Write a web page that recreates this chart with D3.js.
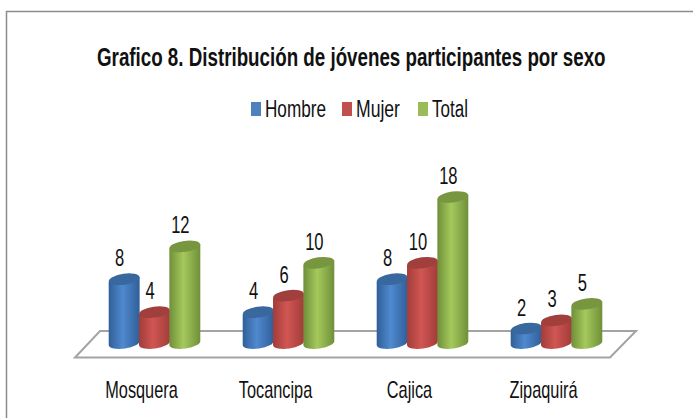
<!DOCTYPE html>
<html>
  <head>
    <meta charset="utf-8">
    <script src="https://d3js.org/d3.v7.min.js"></script>
    <title>Grafico 8</title>
    <style>
      body { margin: 0px; background: white; }
      svg { display: block; }
      text { font-family: 'Liberation Sans', sans-serif; fill: #111111; }
    </style>
  </head>
  <body>
    <div id="graph"></div>
    <script>
      const titleText = 'Grafico 8. Distribución de jóvenes participantes por sexo';
      const categories = ['Mosquera', 'Tocancipa', 'Cajica', 'Zipaquirá'];
      const seriesNames = ['Hombre', 'Mujer', 'Total'];
      const hombre = [8, 4, 8, 2];
      const mujer = [4, 6, 10, 3];
      const total = [12, 10, 18, 5];
      const seriesValues = [hombre, mujer, total];

      // edge, middle, top cap, legend
      const seriesColors = [
        ['#2f5f98', '#5089cf', '#39689f', '#4f81bd'],
        ['#a23c39', '#d05653', '#a03f3c', '#c0504d'],
        ['#6f8f39', '#a5c95c', '#78953f', '#9bbb59']
      ];

      const svg = d3.select('#graph').append('svg')
        .attr('width', 693)
        .attr('height', 418);

      // gradients for the cylinders
      const defs = svg.append('defs');
      seriesColors.forEach((c, i) => {
        const grad = defs.append('linearGradient').attr('id', 'cyl' + i);
        grad.append('stop').attr('offset', '0%').attr('stop-color', c[0]);
        grad.append('stop').attr('offset', '45%').attr('stop-color', c[1]);
        grad.append('stop').attr('offset', '100%').attr('stop-color', c[0]);
      });

      // outer frame, open on the right and at the bottom
      svg.append('path')
        .attr('d', 'M6.5,418V11.5H693')
        .attr('fill', 'none')
        .attr('stroke', '#8c8c8c')
        .attr('stroke-width', 1.5);

      // squeeze a text to a given width, the reference font is condensed
      function squeeze(sel, x, y, w) {
        const k = w / sel.node().getComputedTextLength();
        sel.attr('transform', `translate(${x},${y}) scale(${k},1)`);
      }

      const title = svg.append('text')
        .attr('font-size', 26)
        .attr('font-weight', 'bold')
        .text(titleText);
      squeeze(title, 97, 66, 509);

      // legend
      const legendX = [251, 342, 418];
      const legendW = [61, 44, 36];
      seriesNames.forEach((name, i) => {
        svg.append('rect')
          .attr('x', legendX[i])
          .attr('y', 102)
          .attr('width', 10)
          .attr('height', 14)
          .attr('fill', seriesColors[i][3]);
        const t = svg.append('text')
          .attr('class', 'legend')
          .attr('font-size', 23)
          .text(name);
        squeeze(t, legendX[i] + 14, 117, legendW[i]);
      });

      // floor
      svg.append('path')
        .attr('d', 'M75,357.5H610L636,331H100Z')
        .attr('fill', 'white')
        .attr('stroke', '#a3a3a3')
        .attr('stroke-width', 2);

      const x0 = d3.scaleBand().domain(categories).range([87.5, 623.5]);
      const x1 = d3.scaleBand().domain(seriesNames).range([21.5, 112.5]);
      const y = d3.scaleLinear().domain([0, 18]).range([345, 197]);

      const rx = x1.bandwidth() / 2 + 0.3;
      const ry = 5.5;
      const tilt = -8;
      const dy = 2.2;

      const rows = [];
      seriesNames.forEach((s, si) => {
        categories.forEach((c, ci) => {
          rows.push({ s: s, si: si, c: c, v: seriesValues[si][ci] });
        });
      });

      const bars = svg.selectAll('.bar').data(rows).enter().append('g')
        .attr('class', 'bar')
        .attr('transform', d => `translate(${x0(d.c) + x1(d.s) + x1.bandwidth() / 2},0)`);

      bars.append('path')
        .attr('fill', d => `url(#cyl${d.si})`)
        .attr('d', d => {
          const top = y(d.v);
          const bottom = y(0) - 2;
          return `M${-rx},${top + dy}L${-rx},${bottom + dy}` +
            `A${rx},${ry} ${tilt} 0 0 ${rx},${bottom - dy}L${rx},${top - dy}Z`;
        });

      bars.append('ellipse')
        .attr('rx', rx)
        .attr('ry', ry)
        .attr('fill', d => seriesColors[d.si][2])
        .attr('transform', d => `translate(0,${y(d.v)}) rotate(${tilt})`);

      bars.append('text')
        .attr('transform', d => `translate(-4.5,${y(d.v) - 13}) scale(0.72,1)`)
        .attr('text-anchor', 'middle')
        .attr('font-size', 23)
        .text(d => d.v);

      svg.selectAll('.cat').data(categories).enter().append('text')
        .attr('class', 'cat')
        .attr('transform', d => `translate(${x0(d) + x0.bandwidth() / 2 - 13},398) scale(0.71,1)`)
        .attr('text-anchor', 'middle')
        .attr('font-size', 23)
        .text(d => d);
    </script>
  </body>
</html>
